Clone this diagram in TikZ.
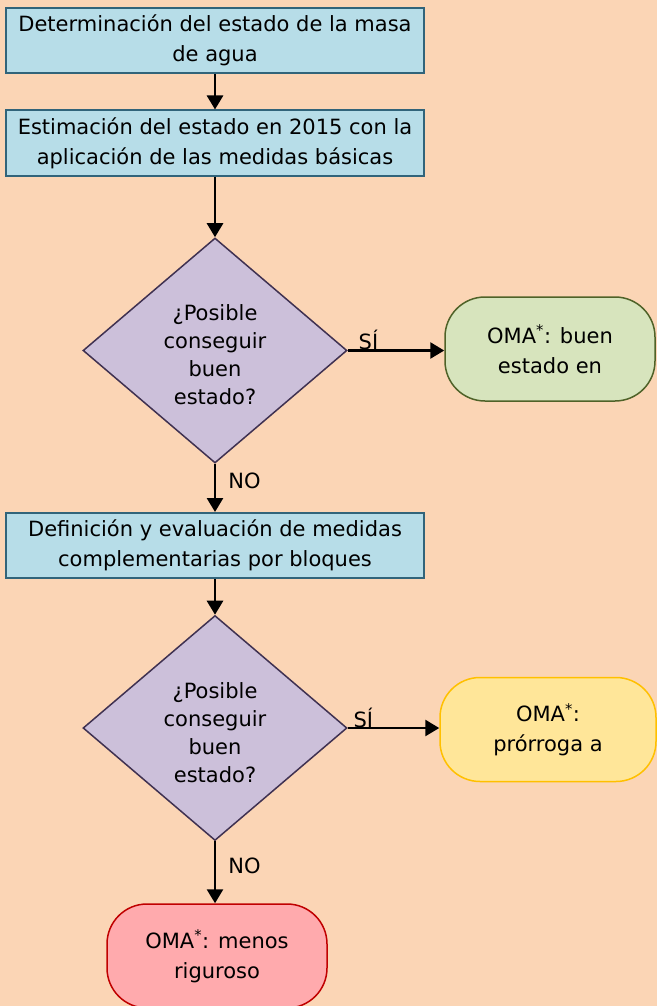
\documentclass[tikz,border=0pt]{standalone}
\usepackage{fontspec}
\setmainfont{DejaVu Sans}
\usetikzlibrary{shapes.geometric,arrows.meta}
\definecolor{bg}{HTML}{FBD5B5}
\definecolor{boxfill}{HTML}{B7DDE8}
\definecolor{boxline}{HTML}{31647A}
\definecolor{diafill}{HTML}{CCC0DA}
\definecolor{dialine}{HTML}{3F3151}
\definecolor{grfill}{HTML}{D7E4BD}
\definecolor{grline}{HTML}{4F6228}
\definecolor{yefill}{HTML}{FFE699}
\definecolor{yeline}{HTML}{FFC000}
\definecolor{refill}{HTML}{FFAAAD}
\definecolor{reline}{HTML}{C00000}
\tikzset{
  txt/.style={font=\fontsize{21}{30}\selectfont},
  procbox/.style={txt, draw=boxline, fill=boxfill, line width=2pt, minimum width=418pt, minimum height=65pt, inner sep=0pt, align=center},
  decision/.style={diamond, draw=dialine, fill=diafill, line width=1.5pt, minimum width=264pt, minimum height=225pt, inner sep=0pt},
  dtext/.style={font=\fontsize{21}{28}\selectfont, align=center, inner sep=0pt},
  endnode/.style={txt, rectangle, rounded corners=40pt, line width=1.5pt, minimum height=104pt, inner sep=0pt, align=center},
  flow/.style={line width=2.6pt, -{Triangle[length=14pt,width=16pt]}},
  lbl/.style={txt, inner sep=0pt}
}
\begin{document}
\begin{tikzpicture}[x=1pt,y=-1pt]
\useasboundingbox (0,0) rectangle (657,1006);
\fill[bg] (0,0) rectangle (657,1006);
\clip (0,0) rectangle (657,1006);

\node[procbox] (b1) at (215,40.5) {Determinación del estado de la masa\\de agua};
\node[procbox] (b2) at (215,143) {Estimación del estado en 2015 con la\\aplicación de las medidas básicas};
\node[decision] (d1) at (215,350.5) {};
\node[dtext] (t1) at (215,355) {¿Posible\\conseguir\\buen\\estado?};
\node[endnode, draw=grline, fill=grfill, minimum width=210pt] (g) at (550,349) {OMA\textsuperscript{*}: buen\\estado en};
\node[procbox] (b3) at (215,545.5) {Definición y evaluación de medidas\\complementarias por bloques};
\node[decision] (d2) at (215,728) {};
\node[dtext] (t2) at (215,733) {¿Posible\\conseguir\\buen\\estado?};
\node[endnode, draw=yeline, fill=yefill, minimum width=216pt] (y) at (548,729.5) {OMA\textsuperscript{*}:\\prórroga a};
\node[endnode, draw=reline, fill=refill, minimum width=220pt] (r) at (217,956) {OMA\textsuperscript{*}: menos\\riguroso};

\draw[flow] (b1) -- (b2);
\draw[flow] (b2) -- (d1);
\draw[flow] (d1.east) -- (d1.east -| g.west) node[lbl, pos=0.1, anchor=south west, yshift=-1pt] (s1) {SÍ};
\draw[flow] (d1.south) -- (b3.north) node[lbl, pos=0.35, anchor=west, xshift=12pt] (n1) {NO};
\draw[flow] (b3) -- (d2);
\draw[flow] (d2.east) -- (d2.east -| y.west) node[lbl, pos=0.05, anchor=south west, yshift=-1pt] (s2) {SÍ};
\draw[flow] (d2.south) -- (d2.south |- r.north) node[lbl, pos=0.4, anchor=west, xshift=12pt] (n2) {NO};
\end{tikzpicture}
\end{document}
